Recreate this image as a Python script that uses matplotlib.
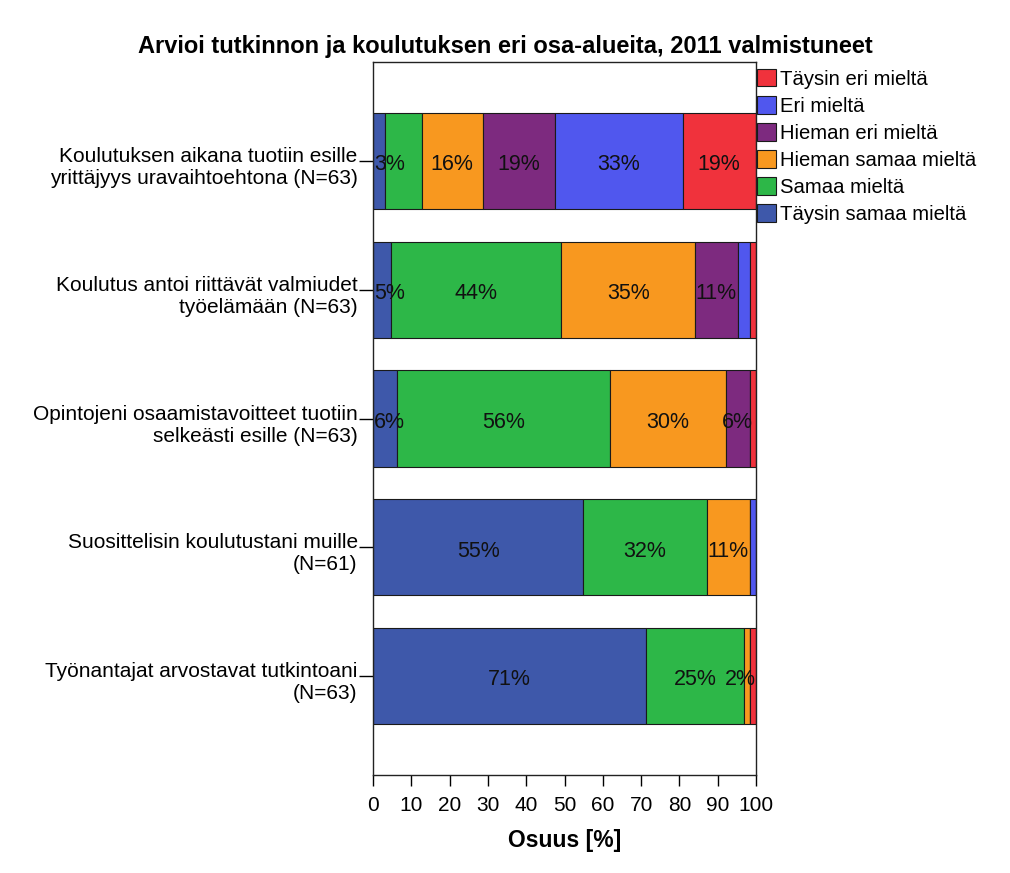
import matplotlib
matplotlib.use('Agg')
import matplotlib.pyplot as plt
import matplotlib.transforms as mtransforms
import numpy as np

plt.rcParams['font.family'] = ['Liberation Sans', 'DejaVu Sans']

categories = [
    'Koulutuksen aikana tuotiin esille\nyrittäjyys uravaihtoehtona (N=63)',
    'Koulutus antoi riittävät valmiudet\ntyöelämään (N=63)',
    'Opintojeni osaamistavoitteet tuotiin\nselkeästi esille (N=63)',
    'Suosittelisin koulutustani muille\n(N=61)',
    'Työnantajat arvostavat tutkintoani\n(N=63)',
]
series = ['Täysin samaa mieltä', 'Samaa mieltä', 'Hieman samaa mieltä',
          'Hieman eri mieltä', 'Eri mieltä', 'Täysin eri mieltä']
colors = ['#3E58AA', '#2DB748', '#F8981F', '#7D2A7F', '#5057EE', '#F0323C']

# percentages per series, one value per category
taysin_samaa = [3.2, 4.8, 6.3, 54.9, 71.4]
samaa = [9.5, 44.4, 55.6, 32.2, 25.4]
hieman_samaa = [15.9, 34.9, 30.2, 11.4, 1.6]
hieman_eri = [19.0, 11.1, 6.3, 0.0, 0.0]
eri = [33.3, 3.2, 0.0, 1.5, 0.0]
taysin_eri = [19.0, 1.6, 1.6, 0.0, 1.6]
values = [taysin_samaa, samaa, hieman_samaa, hieman_eri, eri, taysin_eri]

# which segments carry a label in the original
show_label = [
    [1, 1, 1, 1, 1],
    [0, 1, 1, 1, 1],
    [1, 1, 1, 1, 1],
    [1, 1, 1, 0, 0],
    [1, 0, 0, 0, 0],
    [1, 0, 0, 0, 0],
]

fig = plt.figure(figsize=(10.1, 8.73), dpi=100)
ax = fig.add_axes([373 / 1010, 98 / 873, 383 / 1010, 713 / 873])

y = np.arange(len(categories))
left = np.zeros(len(categories))
fs = 15
for i, s in enumerate(series):
    v = np.array(values[i])
    ax.barh(y, v, left=left, height=0.75, color=colors[i], edgecolor='#1a1a1a',
            linewidth=0.8, label=s)
    for j in range(len(categories)):
        if show_label[i][j] and v[j] > 0:
            c = left[j] + v[j] / 2
            ha = 'center'
            if c < 4:
                c, ha = 0.2, 'left'
            elif c > 96:
                c, ha = 100, 'right'
            ax.text(c, y[j] + 0.03, '%d%%' % round(v[j]), ha=ha, va='center',
                    fontsize=15.5, color='#111111')
    left += v

ax.set_xlim(0, 100)
ax.set_ylim(len(categories) - 1 + 0.77, -0.77)
ax.set_xticks(np.arange(0, 101, 10))
ax.set_yticks(y)
ax.set_yticklabels(categories, fontsize=fs, ha='right', multialignment='right')
ax.tick_params(axis='x', labelsize=fs, length=8, width=1, pad=7)
ax.tick_params(axis='y', length=10, width=1, pad=1)
# nudge the category labels down a little
shift = mtransforms.ScaledTranslation(0, -3 / 100, fig.dpi_scale_trans)
for lab in ax.get_yticklabels():
    lab.set_transform(lab.get_transform() + shift)
for sp in ax.spines.values():
    sp.set_linewidth(1)
    sp.set_color('#222222')
ax.set_xlabel('Osuus [%]', fontsize=16.5, fontweight='bold', labelpad=10)
fig.suptitle('Arvioi tutkinnon ja koulutuksen eri osa-alueita, 2011 valmistuneet',
             fontsize=17, fontweight='bold', x=505 / 1010, y=1 - 47 / 873, va='center')

h, l = ax.get_legend_handles_labels()
ax.legend(h[::-1], l[::-1], loc='upper left', bbox_to_anchor=(757 / 1010, 1 - 69 / 873),
          bbox_transform=fig.transFigure, frameon=False, fontsize=14.6,
          handlelength=0.95, handleheight=0.95, handletextpad=0.2,
          labelspacing=0.36, borderpad=0, borderaxespad=0)

fig.savefig('out.png', dpi=100)
